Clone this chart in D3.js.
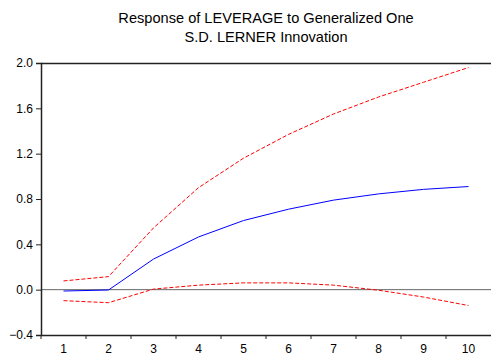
<!DOCTYPE html>
<html>
<head>
<meta charset="utf-8">
<script src="https://cdn.jsdelivr.net/npm/d3@7"></script>
<style>
  body { margin: 0; background: #fff; }
  svg { display: block; font-family: "Liberation Sans", Arial, sans-serif; }
</style>
</head>
<body>
<div id="chart"></div>
<script>
// periods and impulse responses
var periods = [1, 2, 3, 4, 5, 6, 7, 8, 9, 10];
var response = [-0.012, -0.003, 0.27, 0.465, 0.61, 0.71, 0.79, 0.845, 0.885, 0.91];
var upper = [0.077, 0.115, 0.545, 0.90, 1.16, 1.37, 1.55, 1.70, 1.83, 1.96];
var lower = [-0.097, -0.115, 0.005, 0.04, 0.06, 0.06, 0.04, -0.005, -0.065, -0.14];
var yTicks = [-0.4, 0.0, 0.4, 0.8, 1.2, 1.6, 2.0];
var titleLines = ["Response of LEVERAGE to Generalized One", "S.D. LERNER Innovation"];

var W = 491, H = 360;
var margin = {top: 63, right: 0, bottom: 25, left: 41};
var width = W - margin.left - margin.right;
var height = H - margin.top - margin.bottom;

var svg = d3.select("#chart").append("svg")
    .attr("width", W)
    .attr("height", H);

// title
svg.selectAll(".title")
    .data(titleLines)
    .enter().append("text")
    .attr("class", "title")
    .attr("x", 266)
    .attr("y", function(d, i) { return 23 + i * 18.5; })
    .attr("text-anchor", "middle")
    .style("font-size", "14.6px")
    .text(function(d) { return d; });

var g = svg.append("g")
    .attr("transform", "translate(" + margin.left + "," + margin.top + ")");

var xBand = d3.scaleBand()
    .domain(periods)
    .range([0, width]);

var x = function(p) { return xBand(p) + xBand.bandwidth() / 2; };

var y = d3.scaleLinear()
    .domain([-0.4, 2.0])
    .range([height, 0]);

// zero line
g.append("line")
    .attr("x1", 0).attr("x2", width)
    .attr("y1", y(0)).attr("y2", y(0))
    .attr("stroke", "#666")
    .attr("stroke-width", 1);

// top border
g.append("line")
    .attr("x1", 0).attr("x2", width)
    .attr("y1", 0.5).attr("y2", 0.5)
    .attr("stroke", "#222")
    .attr("stroke-width", 1.5);

// y axis
var yAxis = g.append("g")
    .call(d3.axisLeft(y).tickValues(yTicks).tickFormat(d3.format(".1f")).tickSize(5).tickPadding(3));
yAxis.select(".domain").attr("stroke", "#222").attr("stroke-width", 1.5);
yAxis.selectAll("line").attr("stroke", "#222");
yAxis.selectAll("text").style("font-size", "12px").attr("fill", "#000");

// x axis, ticks between categories
var xAxis = g.append("g")
    .attr("transform", "translate(0," + height + ")")
    .call(d3.axisBottom(xBand).tickSize(0).tickPadding(9));
xAxis.select(".domain").attr("stroke", "#222").attr("stroke-width", 1.5);
xAxis.selectAll("text").style("font-size", "12px").attr("fill", "#000");

g.append("g")
    .selectAll("line")
    .data(periods)
    .enter().append("line")
    .attr("x1", function(d) { return xBand(d); })
    .attr("x2", function(d) { return xBand(d); })
    .attr("y1", height)
    .attr("y2", height + 4)
    .attr("stroke", "#222");

var line = d3.line()
    .x(function(d, i) { return x(periods[i]); })
    .y(function(d) { return y(d); });

g.append("path")
    .datum(upper)
    .attr("d", line)
    .attr("fill", "none")
    .attr("stroke", "#ff0000")
    .attr("stroke-width", 1)
    .attr("stroke-dasharray", "4,2");

g.append("path")
    .datum(lower)
    .attr("d", line)
    .attr("fill", "none")
    .attr("stroke", "#ff0000")
    .attr("stroke-width", 1)
    .attr("stroke-dasharray", "4,2");

g.append("path")
    .datum(response)
    .attr("d", line)
    .attr("fill", "none")
    .attr("stroke", "#0000ff")
    .attr("stroke-width", 1);
</script>
</body>
</html>
